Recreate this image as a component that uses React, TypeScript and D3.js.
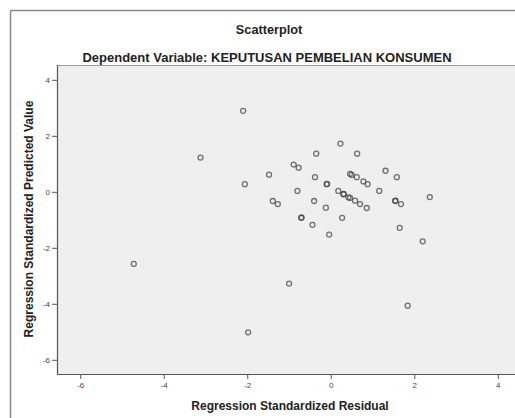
import React from "react";
import * as d3 from "d3";

const residual = [
  -2.11, -3.13, -0.9, -0.78, -1.49, -2.07, -0.81, -1.4, -1.28, -0.72, -0.71,
  -4.73, -1.01, -1.99, -0.45, 0.22, -0.36, 0.62, -0.39, 0.45, 0.49, 0.61,
  0.77, 0.87, 1.3, 1.57, -0.11, -0.1, 0.17, 0.29, 0.3, 0.41, 0.45, 0.57,
  0.69, 0.85, 1.15, 1.53, 1.54, 1.67, 2.36, -0.41, -0.13, 0.26, -0.05, 1.64,
  2.19, 1.83,
];
const predicted = [
  2.91, 1.24, 0.99, 0.88, 0.63, 0.29, 0.05, -0.31, -0.42, -0.91, -0.9,
  -2.56, -3.26, -5.0, -1.16, 1.74, 1.38, 1.38, 0.54, 0.66, 0.62, 0.54,
  0.39, 0.29, 0.77, 0.54, 0.29, 0.3, 0.05, -0.07, -0.06, -0.18, -0.2, -0.3,
  -0.42, -0.56, 0.05, -0.31, -0.3, -0.42, -0.17, -0.31, -0.55, -0.91, -1.51,
  -1.27, -1.75, -4.05,
];
const xTicks = [-6, -4, -2, 0, 2, 4];
const yTicks = [4, 2, 0, -2, -4, -6];

const title = "Scatterplot";
const subtitle = "Dependent Variable: KEPUTUSAN PEMBELIAN KONSUMEN";
const xLabel = "Regression Standardized Residual";
const yLabel = "Regression Standardized Predicted Value";

export default function App() {
  const W = 515;
  const H = 418;
  const left = 57;
  const right = 523;
  const top = 65;
  const bottom = 374;
  const x = d3.scaleLinear().domain([-6.568, 4.592]).range([left, right]);
  const y = d3.scaleLinear().domain([4.547, -6.49]).range([top, bottom]);
  const font = "'Liberation Sans', Arial, sans-serif";

  return (
    <svg
      width={W}
      height={H}
      style={{ position: "absolute", left: 0, top: 0, background: "#fff" }}
      fontFamily={font}
    >
      {/* outer frame */}
      <line x1={10.5} y1={10.5} x2={W + 5} y2={10.5} stroke="#8a8a8a" strokeWidth={1.5} />
      <line x1={10.5} y1={10.5} x2={10.5} y2={H + 5} stroke="#8a8a8a" strokeWidth={1.5} />

      <text x={269} y={34} textAnchor="middle" fontSize={12.7} fontWeight="bold" fill="#222">
        {title}
      </text>
      <text x={267} y={61.5} textAnchor="middle" fontSize={13} fontWeight="bold" fill="#222">
        {subtitle}
      </text>

      {/* plot area */}
      <rect x={left} y={top} width={right - left} height={bottom - top} fill="#efefef" />
      <line x1={left} y1={top + 0.5} x2={right} y2={top + 0.5} stroke="#9a9a9a" strokeWidth={1.2} />
      <line x1={left + 0.5} y1={top} x2={left + 0.5} y2={bottom} stroke="#555" strokeWidth={1.2} />
      <line x1={left} y1={bottom + 0.5} x2={right} y2={bottom + 0.5} stroke="#555" strokeWidth={1.2} />

      {xTicks.map((t) => (
        <g key={"x" + t}>
          <line x1={x(t)} x2={x(t)} y1={bottom} y2={bottom + 5} stroke="#555" strokeWidth={1} />
          <text x={x(t)} y={388} textAnchor="middle" fontSize={8} fill="#444">
            {t}
          </text>
        </g>
      ))}
      {yTicks.map((t) => (
        <g key={"y" + t}>
          <line x1={left - 5} x2={left} y1={y(t)} y2={y(t)} stroke="#555" strokeWidth={1} />
          <text x={50} y={y(t) + 2.8} textAnchor="end" fontSize={8} fill="#444">
            {t}
          </text>
        </g>
      ))}

      {residual.map((r, i) => (
        <circle
          key={i}
          cx={x(r)}
          cy={y(predicted[i])}
          r={2.5}
          fill="none"
          stroke="#3a3a3a"
          strokeOpacity={0.7}
          strokeWidth={1.3}
        />
      ))}

      <text x={290} y={410} textAnchor="middle" fontSize={12} fontWeight="bold" fill="#222">
        {xLabel}
      </text>
      <text
        transform={`translate(33,219) rotate(-90)`}
        textAnchor="middle"
        fontSize={12}
        fontWeight="bold"
        fill="#222"
      >
        {yLabel}
      </text>
    </svg>
  );
}
